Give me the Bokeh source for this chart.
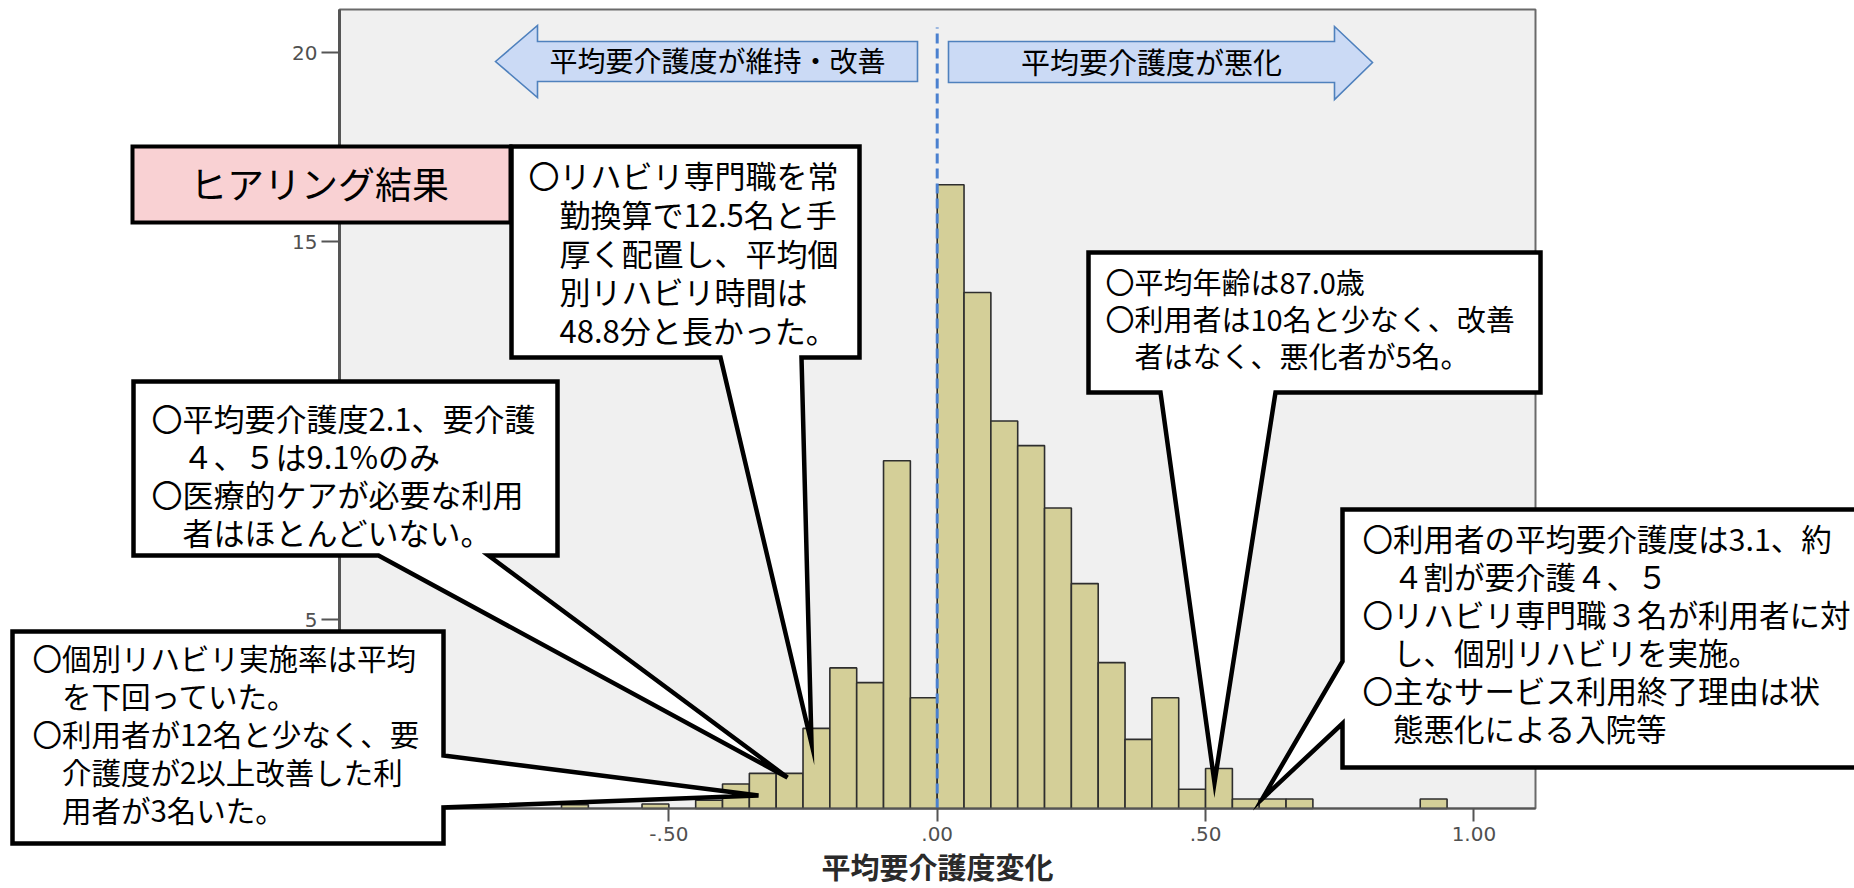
from bokeh.plotting import figure
from bokeh.models import (Range1d, FixedTicker, CustomJSTickFormatter, PolyAnnotation,
                          Label, BoxAnnotation)
from bokeh.embed import file_html
from bokeh.resources import INLINE

# ---------------- data ----------------
bin_lefts = [-0.70, -0.65, -0.60, -0.55, -0.50, -0.45, -0.40, -0.35, -0.30, -0.25,
             -0.20, -0.15, -0.10, -0.05, 0.00, 0.05, 0.10, 0.15, 0.20, 0.25,
             0.30, 0.35, 0.40, 0.45, 0.50, 0.55, 0.60, 0.65, 0.70, 0.75,
             0.80, 0.85, 0.90]
counts = [0.10, 0, 0, 0.12, 0, 0.22, 0.65, 0.93, 0.93, 2.12,
          3.72, 3.33, 9.20, 2.93, 16.50, 13.65, 10.25, 9.60, 7.95, 5.95,
          3.86, 1.83, 2.93, 0.51, 1.06, 0.25, 0.25, 0.25, 0, 0,
          0, 0, 0.25]
bin_width = 0.05
x_ticks = [-0.5, 0.0, 0.5, 1.0]
y_ticks = [0, 5, 10, 15, 20]
x_title = "平均要介護度変化"
arrow_left_text = "平均要介護度が維持・改善"
arrow_right_text = "平均要介護度が悪化"
heading_text = "ヒアリング結果"
note_a = ["〇リハビリ専門職を常", "　勤換算で12.5名と手", "　厚く配置し、平均個",
          "　別リハビリ時間は", "　48.8分と長かった。"]
note_b = ["〇平均要介護度2.1、要介護", "　４、５は9.1%のみ",
          "〇医療的ケアが必要な利用", "　者はほとんどいない。"]
note_c = ["〇個別リハビリ実施率は平均", "　を下回っていた。",
          "〇利用者が12名と少なく、要", "　介護度が2以上改善した利", "　用者が3名いた。"]
note_e = ["〇平均年齢は87.0歳", "〇利用者は10名と少なく、改善", "　者はなく、悪化者が5名。"]
note_d = ["〇利用者の平均要介護度は3.1、約", "　４割が要介護４、５",
          "〇リハビリ専門職３名が利用者に対", "　し、個別リハビリを実施。",
          "〇主なサービス利用終了理由は状", "　態悪化による入院等"]

# ---------------- layout (pixels from the page's top-left) ----------------
W, H = 1854, 886
AREA_L, AREA_T, AREA_R, AREA_B = 339, 9, 1535, 808
X_ZERO_PX, PX_PER_X = 936.7, 536.7
Y_ZERO_PX, PX_PER_Y = 808.0, 37.8


def dx(px):
    return (px - X_ZERO_PX) / PX_PER_X


def dy(py):
    return (Y_ZERO_PX - py) / PX_PER_Y


JP = "Noto Sans CJK JP"

p = figure(width=W, height=H, title=None,
           x_range=Range1d(dx(0), dx(W)),
           y_range=Range1d(dy(H), dy(0)),
           output_backend="svg", toolbar_location=None,
           min_border=0, min_border_left=0, min_border_right=0,
           min_border_top=0, min_border_bottom=0)
p.background_fill_color = "white"
p.border_fill_color = "white"
p.outline_line_color = None
p.grid.visible = False

# plot area (grey)
p.add_layout(BoxAnnotation(left=dx(AREA_L), right=dx(AREA_R), bottom=dy(AREA_B), top=dy(AREA_T),
                           fill_color="#f0f0f0", fill_alpha=1.0,
                           line_color="#6a6a6a", line_alpha=1.0, line_width=2,
                           level="underlay"))

# axes
xa = p.xaxis[0]
xa.fixed_location = 0
xa.bounds = (dx(AREA_L), dx(AREA_R))
xa.ticker = FixedTicker(ticks=x_ticks)
xa.formatter = CustomJSTickFormatter(code="return tick.toFixed(2).replace(/^(-?)0\\./, '$1.')")
xa.major_tick_in = 0
xa.major_tick_out = 13
xa.minor_tick_line_color = None
xa.major_label_standoff = 5
xa.axis_line_color = "#555555"
xa.axis_line_width = 2
xa.major_tick_line_color = "#555555"
xa.major_tick_line_width = 2
xa.major_label_text_font = "DejaVu Sans"
xa.major_label_text_font_size = "20px"
xa.major_label_text_color = "#505050"

ya = p.yaxis[0]
ya.fixed_location = dx(AREA_L)
ya.bounds = (0, dy(AREA_T))
ya.ticker = FixedTicker(ticks=y_ticks)
ya.major_tick_in = 0
ya.major_tick_out = 18
ya.minor_tick_line_color = None
ya.major_label_standoff = 4
ya.axis_line_color = "#555555"
ya.axis_line_width = 3
ya.major_tick_line_color = "#555555"
ya.major_tick_line_width = 2
ya.major_label_text_font = "DejaVu Sans"
ya.major_label_text_font_size = "20px"
ya.major_label_text_color = "#505050"

# histogram bars
lefts = [l for l, c in zip(bin_lefts, counts) if c > 0]
tops = [c for c in counts if c > 0]
rights = [l + bin_width for l in lefts]
p.quad(left=lefts, right=rights, bottom=0, top=tops,
       fill_color="#d4cf98", line_color="#2e2e2e", line_width=1.6)

# dashed zero line
p.segment(x0=[0], y0=[0], x1=[0], y1=[dy(27)], line_color="#4a80cf",
          line_width=3, line_dash="10 5")


def poly(pts, fill, line, lw, fill_alpha=1.0):
    p.add_layout(PolyAnnotation(xs=[dx(a) for a, b in pts], ys=[dy(b) for a, b in pts],
                                fill_color=fill, fill_alpha=fill_alpha,
                                line_color=line, line_width=lw, line_alpha=1.0,
                                line_join="miter"))


def label(px, py, text, size, align="left", baseline="middle", style="normal", color="black"):
    p.add_layout(Label(x=dx(px), y=dy(py), text=text, text_font=JP,
                       text_font_size=f"{size}px", text_align=align,
                       text_baseline=baseline, text_font_style=style, text_color=color))


def note(x, y0, step, lines, size):
    for i, t in enumerate(lines):
        label(x, y0 + i * step, t, size)


# x axis title
label(937, 886, x_title, 29, align="center", baseline="bottom", style="bold", color="#2a2a2a")

# arrows
poly([(495, 61), (537, 25), (537, 41), (917, 41), (917, 81), (537, 81), (537, 97)],
     "#cbdaf5", "#4f81bd", 1.6)
label(717, 59, arrow_left_text, 28, align="center")
poly([(948, 41), (1334, 41), (1334, 26), (1372, 62), (1334, 99), (1334, 82), (948, 82)],
     "#cbdaf5", "#4f81bd", 1.6)
label(1151, 60, arrow_right_text, 29, align="center")

# heading box
poly([(132, 146), (510, 146), (510, 222), (132, 222)], "#f9d1d3", "black", 4)
label(319, 182, heading_text, 37, align="center")

# callout A
poly([(511, 146), (859, 146), (859, 357), (801, 357), (811, 743), (720, 357), (511, 357)],
     "white", "black", 4.5)
note(528, 174, 38.8, note_a, 31)

# callout B
poly([(133, 381), (557, 381), (557, 555), (488, 555), (787, 777), (378, 555), (133, 555)],
     "white", "black", 4.5)
note(151, 417, 38, note_b, 31)

# callout C
poly([(12, 631), (443, 631), (443, 755), (758, 795), (443, 807), (443, 843), (12, 843)],
     "white", "black", 4.5)
note(32, 656, 38.1, note_c, 29.5)

# callout E
poly([(1088, 252), (1540, 252), (1540, 392), (1275, 392), (1214, 782), (1160, 392), (1088, 392)],
     "white", "black", 4.5)
note(1105, 280, 37.2, note_e, 29)

# callout D
poly([(1342, 509), (1880, 509), (1880, 767), (1342, 767), (1342, 723), (1262, 798), (1342, 661)],
     "white", "black", 4.5)
note(1362, 537, 38.1, note_d, 30.5)

open("out.html", "w").write(file_html(p, INLINE))
